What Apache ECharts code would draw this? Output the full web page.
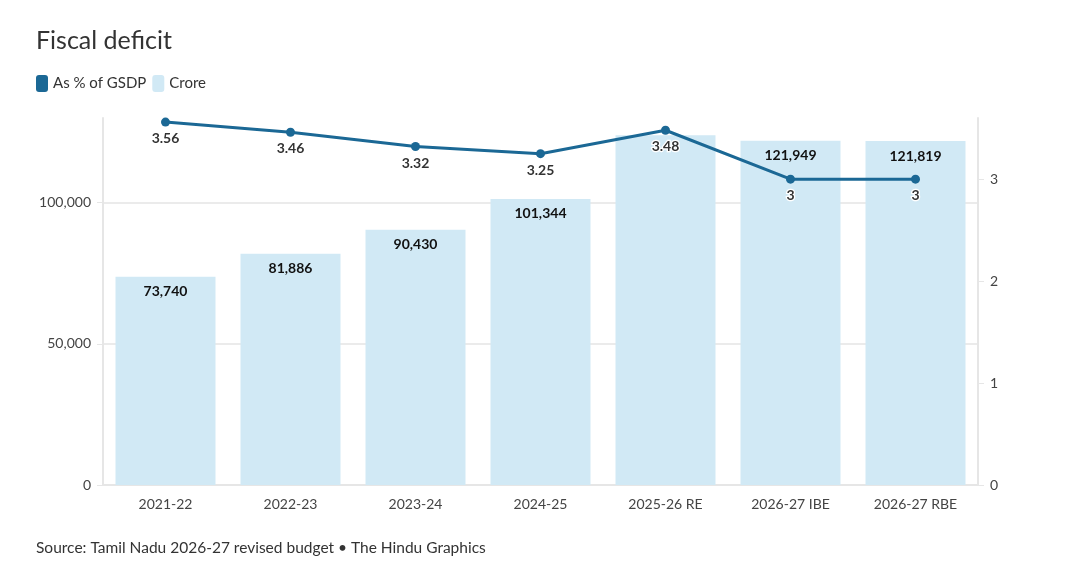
<!DOCTYPE html>
<html>
<head>
<meta charset="utf-8">
<script src="https://cdn.jsdelivr.net/npm/echarts@6/dist/echarts.min.js"></script>
<style>
  html, body { margin: 0; padding: 0; background: #fff; }
  #chart { width: 1086px; height: 580px; }
</style>
</head>
<body>
<div id="chart"></div>
<script>
var years = ['2021-22', '2022-23', '2023-24', '2024-25', '2025-26 RE', '2026-27 IBE', '2026-27 RBE'];
var crore = [73740, 81886, 90430, 101344, 123900, 121949, 121819];
var pctGsdp = [3.56, 3.46, 3.32, 3.25, 3.48, 3, 3];
var leftTicks = [0, 50000, 100000];
var rightTicks = [0, 1, 2, 3];

var font = 'Lato, "Noto Sans", sans-serif';
var chart = echarts.init(document.getElementById('chart'));

var barData = crore.map(function (v, i) {
    // the 2025-26 RE bar label is covered by the line label in the original
    if (i === 4) return { value: v, label: { show: false } };
    return v;
});

var option = {
    animation: false,
    textStyle: { fontFamily: font },
    title: {
        text: 'Fiscal deficit',
        left: 31,
        top: 23,
        textStyle: { fontSize: 25, fontWeight: 'normal', color: '#333', fontFamily: font }
    },
    legend: {
        left: 31,
        top: 70,
        icon: 'roundRect',
        itemWidth: 12,
        itemHeight: 17,
        itemGap: 6,
        textStyle: { fontSize: 15, color: '#333', fontFamily: font },
        data: ['As % of GSDP', 'Crore']
    },
    graphic: [{
        type: 'text',
        left: 36,
        top: 540,
        style: {
            text: 'Source: Tamil Nadu 2026-27 revised budget \u2022 The Hindu Graphics',
            fontSize: 15.5,
            fill: '#333',
            fontFamily: font
        }
    }],
    grid: { left: 103, right: 108, top: 118, bottom: 95 },
    xAxis: {
        type: 'category',
        data: years,
        axisLine: { lineStyle: { color: '#e6e6e6', width: 2 } },
        axisTick: { alignWithLabel: true, length: 6, lineStyle: { color: '#e6e6e6' } },
        axisLabel: { color: '#444', fontSize: 14, margin: 12 }
    },
    yAxis: [{
        type: 'value',
        min: 0,
        max: 130000,
        interval: 50000,
        axisLine: { show: true, lineStyle: { color: '#e6e6e6', width: 2 } },
        axisTick: { show: true, length: 6, lineStyle: { color: '#e6e6e6' }, customValues: leftTicks },
        axisLabel: {
            color: '#444', fontSize: 14, margin: 12, customValues: leftTicks,
            formatter: function (v) { return v.toLocaleString('en-US'); }
        },
        splitLine: { lineStyle: { color: '#ebebeb', width: 2 } }
    }, {
        type: 'value',
        min: 0,
        max: 3.6,
        interval: 1,
        axisLine: { show: true, lineStyle: { color: '#e6e6e6', width: 2 } },
        axisTick: { show: true, length: 6, lineStyle: { color: '#e6e6e6' }, customValues: rightTicks },
        axisLabel: { color: '#444', fontSize: 14, margin: 12, customValues: rightTicks },
        splitLine: { show: false }
    }],
    series: [{
        name: 'As % of GSDP',
        type: 'line',
        yAxisIndex: 1,
        data: pctGsdp,
        z: 5,
        color: '#1b6895',
        symbol: 'circle',
        symbolSize: 9,
        lineStyle: { width: 3, color: '#1b6895' },
        itemStyle: { color: '#1b6895' },
        label: {
            show: true,
            position: 'bottom',
            distance: 5,
            fontSize: 14,
            fontWeight: 'bold',
            color: '#333',
            textBorderColor: '#fff',
            textBorderWidth: 2.5,
            fontFamily: font
        }
    }, {
        name: 'Crore',
        type: 'bar',
        yAxisIndex: 0,
        data: barData,
        z: 2,
        color: '#d1e9f5',
        barCategoryGap: '20%',
        itemStyle: { color: '#d1e9f5' },
        label: {
            show: true,
            position: 'insideTop',
            distance: 8,
            fontSize: 14,
            fontWeight: 'bold',
            color: '#111',
            fontFamily: font,
            formatter: function (p) { return p.value.toLocaleString('en-US'); }
        }
    }]
};

chart.setOption(option);
</script>
</body>
</html>
